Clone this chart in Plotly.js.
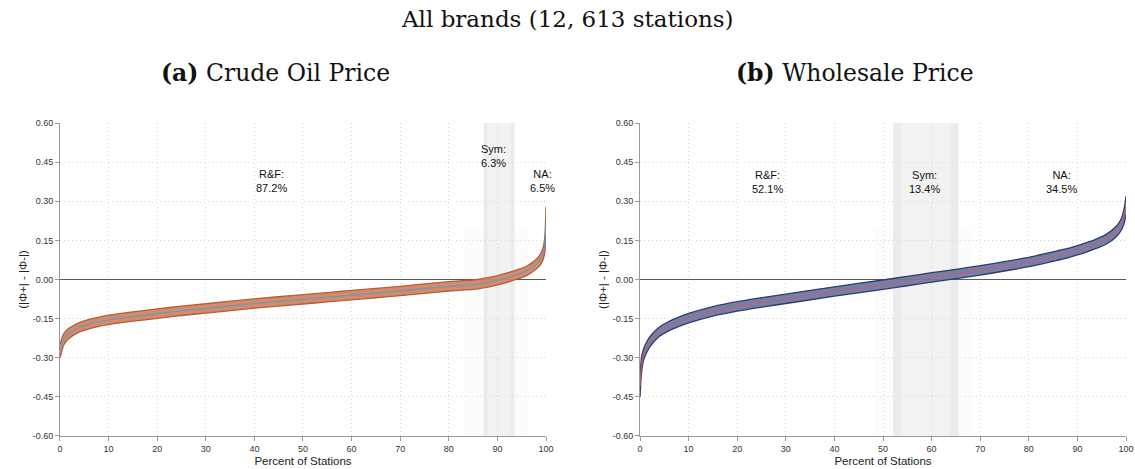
<!DOCTYPE html>
<html>
<head>
<meta charset="utf-8">
<script src="https://cdn.plot.ly/plotly-3.0.1.min.js"></script>
<style>html,body{margin:0;padding:0;background:#fff;}#chart{width:1135px;height:469px;}</style>
</head>
<body>
<div id="chart"></div>
<script>
// ---- data ----
const pct = [0, 0.3, 0.7, 1.5, 2.5, 4, 6, 8, 10, 15, 20, 25, 30, 40, 50, 55, 60, 65, 70, 80, 85, 88, 90, 92, 94, 96, 98, 99, 99.5, 99.8, 100];

// (a) Crude oil price
const crudeMid = [-0.275, -0.255, -0.232, -0.212, -0.198, -0.183, -0.171, -0.162, -0.155, -0.142, -0.131, -0.120, -0.111, -0.092, -0.076, -0.068, -0.060, -0.052, -0.044, -0.026, -0.020, -0.011, -0.003, 0.007, 0.019, 0.033, 0.058, 0.080, 0.105, 0.140, 0.220];
const crudeLo  = [-0.300, -0.280, -0.254, -0.232, -0.217, -0.201, -0.189, -0.180, -0.173, -0.160, -0.149, -0.138, -0.129, -0.110, -0.094, -0.086, -0.078, -0.070, -0.062, -0.044, -0.038, -0.029, -0.021, -0.011, 0.001, 0.015, 0.040, 0.060, 0.082, 0.110, 0.170];
const crudeHi  = [-0.250, -0.230, -0.210, -0.192, -0.179, -0.165, -0.153, -0.144, -0.137, -0.124, -0.113, -0.102, -0.093, -0.074, -0.058, -0.050, -0.042, -0.034, -0.026, -0.008, -0.002, 0.007, 0.015, 0.025, 0.037, 0.051, 0.078, 0.102, 0.130, 0.175, 0.280];

// (b) Wholesale price
const wholeMid = [-0.410, -0.330, -0.290, -0.255, -0.228, -0.200, -0.178, -0.162, -0.148, -0.122, -0.103, -0.088, -0.074, -0.046, -0.020, -0.006, 0.008, 0.021, 0.035, 0.067, 0.088, 0.101, 0.112, 0.124, 0.138, 0.155, 0.184, 0.210, 0.235, 0.260, 0.290];
const wholeLo  = [-0.450, -0.360, -0.312, -0.275, -0.247, -0.218, -0.196, -0.180, -0.166, -0.140, -0.121, -0.106, -0.092, -0.064, -0.038, -0.024, -0.010, 0.003, 0.017, 0.049, 0.070, 0.083, 0.094, 0.106, 0.120, 0.136, 0.164, 0.188, 0.210, 0.230, 0.250];
const wholeHi  = [-0.370, -0.300, -0.268, -0.235, -0.209, -0.182, -0.160, -0.144, -0.130, -0.104, -0.085, -0.070, -0.056, -0.028, -0.002, 0.012, 0.026, 0.039, 0.053, 0.085, 0.106, 0.119, 0.130, 0.142, 0.156, 0.174, 0.204, 0.232, 0.262, 0.290, 0.320];

// symmetric-response regions (percent of stations)
const crudeSym = [87.2, 93.5];
const wholeSym = [52.1, 65.5];

// region labels
const crudeLabels = ["R&F:<br>87.2%", "Sym:<br>6.3%", "NA:<br>6.5%"];
const crudeLabelX = [43.6, 89.2, 99.2];
const crudeLabelY = [0.378, 0.475, 0.378];
const wholeLabels = ["R&F:<br>52.1%", "Sym:<br>13.4%", "NA:<br>34.5%"];
const wholeLabelX = [26.3, 58.6, 86.8];
const wholeLabelY = [0.374, 0.374, 0.374];

const yTickVals = [-0.60, -0.45, -0.30, -0.15, 0.00, 0.15, 0.30, 0.45, 0.60];
const yTickText = ["-0.60", "-0.45", "-0.30", "-0.15", "0.00", "0.15", "0.30", "0.45", "0.60"];
const xTickVals = [0, 10, 20, 30, 40, 50, 60, 70, 80, 90, 100];

const mainTitle = "All brands (12, 613 stations)";
const panelTitles = ["<b>(a)</b> Crude Oil Price", "<b>(b)</b> Wholesale Price"];
const yTitle = "(|Φ+| - |Φ-|)";
const xTitle = "Percent of Stations";

// ---- traces ----
function band(x, lo, hi, mid, xa, ya, edge, fill, midColor) {
  return [
    {x: x, y: lo, xaxis: xa, yaxis: ya, type: 'scatter', mode: 'lines',
     line: {color: edge, width: 1.3, shape: 'spline', smoothing: 0.6}, hoverinfo: 'skip', showlegend: false},
    {x: x, y: hi, xaxis: xa, yaxis: ya, type: 'scatter', mode: 'lines', fill: 'tonexty', fillcolor: fill,
     line: {color: edge, width: 1.3, shape: 'spline', smoothing: 0.6}, hoverinfo: 'skip', showlegend: false},
    {x: x, y: mid, xaxis: xa, yaxis: ya, type: 'scatter', mode: 'lines',
     line: {color: midColor, width: 1.1, shape: 'spline', smoothing: 0.6}, showlegend: false}
  ];
}

const data = [].concat(
  band(pct, crudeLo, crudeHi, crudeMid, 'x', 'y', '#b25f3d', 'rgba(213,132,98,0.95)', '#5b9cc3'),
  band(pct, wholeLo, wholeHi, wholeMid, 'x2', 'y2', '#2e3c6a', 'rgba(108,122,165,0.95)', '#c4606a')
);

// ---- layout ----
const axisFont = {family: 'Arial, Liberation Sans, sans-serif', size: 9, color: '#333'};
const gridDash = '1px,3px';
function xAxis(dom, anchor) {
  return {domain: dom, anchor: anchor, range: [0, 100], tickvals: xTickVals, ticks: 'outside', ticklen: 4,
    tickcolor: '#999', showline: true, linecolor: '#999', linewidth: 1, zeroline: false,
    showgrid: true, gridcolor: '#d6d6d6', griddash: gridDash, gridwidth: 1, tickfont: axisFont,
    title: {text: xTitle, font: {family: 'Arial, Liberation Sans, sans-serif', size: 11.5, color: '#222'}, standoff: 4}};
}
function yAxis(anchor) {
  return {domain: [0.0704, 0.7377], anchor: anchor, range: [-0.6, 0.6], tickvals: yTickVals, ticktext: yTickText,
    ticks: 'outside', ticklen: 4, tickcolor: '#999', showline: true, linecolor: '#999', linewidth: 1,
    zeroline: true, zerolinecolor: '#5a5a5a', zerolinewidth: 1.5,
    showgrid: true, gridcolor: '#d6d6d6', griddash: gridDash, gridwidth: 1, tickfont: axisFont,
    title: {text: yTitle, font: {family: 'Arial, Liberation Sans, sans-serif', size: 11.5, color: '#222'}, standoff: 2}};
}

function symShapes(range, xref) {
  const [a, b] = range;
  const w = (b - a);
  const yr = xref.replace('x', 'y') + ' domain';
  return [
    {type: 'rect', xref: xref, yref: yr, x0: a - 4, x1: a, y0: 0, y1: 0.66, fillcolor: '#fcfcfc', line: {width: 0}, layer: 'below'},
    {type: 'rect', xref: xref, yref: yr, x0: b, x1: b + 3, y0: 0, y1: 0.66, fillcolor: '#fcfcfc', line: {width: 0}, layer: 'below'},
    {type: 'rect', xref: xref, yref: yr, x0: a, x1: b, y0: 0, y1: 1, fillcolor: '#f2f2f2', line: {width: 0}, layer: 'below'},
    {type: 'rect', xref: xref, yref: yr, x0: a, x1: a + w * 0.12, y0: 0, y1: 1, fillcolor: '#ebebeb', line: {width: 0}, layer: 'below'},
    {type: 'rect', xref: xref, yref: yr, x0: b - w * 0.12, x1: b, y0: 0, y1: 1, fillcolor: '#ebebeb', line: {width: 0}, layer: 'below'}
  ];
}

const labelFont = {family: 'Arial, Liberation Sans, sans-serif', size: 11, color: '#111'};
const annotations = [];
crudeLabels.forEach((t, i) => annotations.push({xref: 'x', yref: 'y', x: crudeLabelX[i], y: crudeLabelY[i], text: t,
  showarrow: false, font: labelFont, align: 'center'}));
wholeLabels.forEach((t, i) => annotations.push({xref: 'x2', yref: 'y2', x: wholeLabelX[i], y: wholeLabelY[i], text: t,
  showarrow: false, font: labelFont, align: 'center'}));
const serif = 'DejaVu Serif, Liberation Serif, serif';
annotations.push({xref: 'paper', yref: 'paper', x: 567 / 1135, y: 1 - 19 / 469, text: mainTitle, showarrow: false,
  font: {family: serif, size: 23, color: '#111'}, xanchor: 'center', yanchor: 'middle'});
annotations.push({xref: 'paper', yref: 'paper', x: 275 / 1135, y: 1 - 73 / 469, text: panelTitles[0], showarrow: false,
  font: {family: serif, size: 23.5, color: '#111'}, xanchor: 'center', yanchor: 'middle'});
annotations.push({xref: 'paper', yref: 'paper', x: 855 / 1135, y: 1 - 73 / 469, text: panelTitles[1], showarrow: false,
  font: {family: serif, size: 23.5, color: '#111'}, xanchor: 'center', yanchor: 'middle'});

const layout = {
  width: 1135, height: 469,
  margin: {l: 0, r: 0, t: 0, b: 0},
  paper_bgcolor: '#fff', plot_bgcolor: '#fff',
  showlegend: false,
  xaxis: xAxis([0.05286, 0.48106], 'y'),
  yaxis: yAxis('x'),
  xaxis2: xAxis([0.56388, 0.99207], 'y2'),
  yaxis2: yAxis('x2'),
  shapes: [].concat(symShapes(crudeSym, 'x'), symShapes(wholeSym, 'x2')),
  annotations: annotations
};

Plotly.newPlot('chart', data, layout, {displayModeBar: false, staticPlot: true});
</script>
</body>
</html>
